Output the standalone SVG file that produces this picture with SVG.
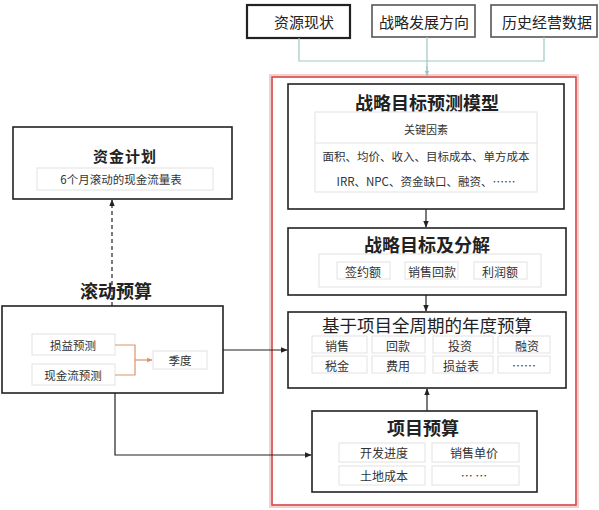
<svg xmlns="http://www.w3.org/2000/svg" width="599" height="510" viewBox="0 0 599 510">
<defs>
<style>
.box{fill:#fff;stroke:#222;stroke-width:1.6}
.ibox{fill:#fff;stroke:#e2e2e2;stroke-width:1}
.t{font-family:"Noto Sans CJK SC","Noto Sans",sans-serif;fill:#222;text-anchor:middle;dominant-baseline:central}
.h{font-size:18px;font-weight:bold}
.s{font-size:11.5px;fill:#333}
.top{font-size:15px}
.ln{fill:none;stroke:#222;stroke-width:1.2}
</style>
<marker id="ah" viewBox="0 0 10 10" refX="9" refY="5" markerWidth="7" markerHeight="7" orient="auto-start-reverse" markerUnits="userSpaceOnUse"><path d="M0,1 L10,5 L0,9 Z" fill="#222"/></marker>
<marker id="aht" viewBox="0 0 10 10" refX="9" refY="5" markerWidth="6" markerHeight="6" orient="auto" markerUnits="userSpaceOnUse"><path d="M0,1 L10,5 L0,9 Z" fill="#9cc9c3"/></marker>
<marker id="aho" viewBox="0 0 10 10" refX="9" refY="5" markerWidth="6" markerHeight="6" orient="auto" markerUnits="userSpaceOnUse"><path d="M0,1 L10,5 L0,9 Z" fill="#d9956a"/></marker>
</defs>
<rect width="599" height="510" fill="#fff"/>

<g id="frame">
<rect x="271" y="76" width="306" height="430" fill="none" stroke="#f3d0d0" stroke-width="4"/>
<rect x="272" y="77" width="304" height="428" fill="none" stroke="#d84545" stroke-width="1.5"/>
</g>

<g id="n-ziyuan">
<rect x="247" y="5" width="103" height="33" fill="#fff" stroke="#222" stroke-width="2.2"/>
<text class="t top" x="304" y="21">资源现状</text>
</g>
<g id="n-zhanlue">
<rect x="372" y="5" width="103" height="32" fill="#fff" stroke="#555" stroke-width="1.6"/>
<text class="t top" x="424" y="21">战略发展方向</text>
</g>
<g id="n-lishi">
<rect x="491" y="5" width="106" height="32" fill="#fff" stroke="#555" stroke-width="1.6"/>
<text class="t top" x="547" y="21">历史经营数据</text>
</g>

<g id="n-model">
<rect class="box" x="288" y="84" width="276" height="125"/>
<text class="t h" x="427" y="102">战略目标预测模型</text>
<rect class="ibox" x="315" y="112" width="222" height="80"/>
<line x1="315" y1="143" x2="537" y2="143" stroke="#e2e2e2"/>
<text class="t s" x="426" y="129" style="font-size:11px">关键因素</text>
<text class="t s" x="426" y="156">面积、均价、收入、目标成本、单方成本</text>
<text class="t s" x="426" y="181">IRR、NPC、资金缺口、融资、……</text>
</g>

<g id="n-goal">
<rect class="box" x="288" y="228" width="278" height="67"/>
<text class="t h" x="427" y="244">战略目标及分解</text>
<rect class="ibox" x="319" y="254" width="222" height="33"/>
<rect class="ibox" x="337" y="262" width="53" height="17"/>
<rect class="ibox" x="405" y="262" width="53" height="17"/>
<rect class="ibox" x="474" y="262" width="53" height="17"/>
<text class="t s" x="363" y="271" style="font-size:12px">签约额</text>
<text class="t s" x="432" y="271" style="font-size:12px">销售回款</text>
<text class="t s" x="500" y="271" style="font-size:12px">利润额</text>
</g>

<g id="n-annual">
<rect class="box" x="288" y="312" width="278" height="76"/>
<text class="t" x="427" y="324" style="font-size:17.5px">基于项目全周期的年度预算</text>
<rect class="ibox" x="312" y="336" width="55" height="17"/>
<rect class="ibox" x="372" y="336" width="53" height="17"/>
<rect class="ibox" x="433" y="336" width="60" height="17"/>
<rect class="ibox" x="498" y="336" width="52" height="17"/>
<rect class="ibox" x="312" y="356" width="55" height="17"/>
<rect class="ibox" x="372" y="356" width="53" height="17"/>
<rect class="ibox" x="433" y="356" width="60" height="17"/>
<rect class="ibox" x="498" y="356" width="52" height="17"/>
<text class="t s" x="337" y="345" style="font-size:12px">销售</text>
<text class="t s" x="398" y="345" style="font-size:12px">回款</text>
<text class="t s" x="460" y="345" style="font-size:12px">投资</text>
<text class="t s" x="527" y="345" style="font-size:12px">融资</text>
<text class="t s" x="337" y="365" style="font-size:12px">税金</text>
<text class="t s" x="398" y="365" style="font-size:12px">费用</text>
<text class="t s" x="461" y="365" style="font-size:12px">损益表</text>
<text class="t s" x="524" y="365" style="font-size:12px">……</text>
</g>

<g id="n-project">
<rect class="box" x="312" y="411" width="225" height="81"/>
<text class="t h" x="423" y="427">项目预算</text>
<rect class="ibox" x="339" y="443" width="86" height="19"/>
<rect class="ibox" x="432" y="443" width="87" height="19"/>
<rect class="ibox" x="339" y="466" width="86" height="19"/>
<rect class="ibox" x="432" y="466" width="87" height="19"/>
<text class="t s" x="384" y="452" style="font-size:12px">开发进度</text>
<text class="t s" x="474" y="452" style="font-size:12px">销售单价</text>
<text class="t s" x="384" y="475" style="font-size:12px">土地成本</text>
<text class="t s" x="474" y="475" style="font-size:12px">… …</text>
</g>

<g id="n-fund">
<rect class="box" x="13" y="127" width="219" height="72"/>
<text class="t" x="125" y="155" style="font-size:15px;font-weight:bold;letter-spacing:1px">资金计划</text>
<rect class="ibox" x="37" y="168" width="176" height="22"/>
<text class="t s" x="121" y="179">6个月滚动的现金流量表</text>
</g>

<g id="n-rolling-label">
<text class="t h" x="116" y="290">滚动预算</text>
</g>

<g id="n-rolling">
<rect class="box" x="2" y="306" width="221" height="87"/>
<rect class="ibox" x="32" y="334" width="83" height="21"/>
<rect class="ibox" x="32" y="364" width="83" height="21"/>
<rect class="ibox" x="153" y="351" width="54" height="18"/>
<text class="t s" x="73" y="345">损益预测</text>
<text class="t s" x="73" y="375">现金流预测</text>
<text class="t s" x="180" y="360">季度</text>
</g>

<g id="connectors">
<path d="M299,38 V61 H544 V37 M427,37 V61 V75" fill="none" stroke="#9cc9c3" stroke-width="1.2"/>
<path d="M427,66 V76" fill="none" stroke="#9cc9c3" stroke-width="1.2" marker-end="url(#aht)"/>
<path class="ln" d="M426,209 V227" marker-end="url(#ah)"/>
<path class="ln" d="M426,295 V311" marker-end="url(#ah)"/>
<path class="ln" d="M427,411 V389" marker-end="url(#ah)"/>
<path class="ln" d="M112,306 V200" stroke-dasharray="4,3" marker-end="url(#ah)"/>
<path class="ln" d="M223,350 H287" marker-end="url(#ah)"/>
<path class="ln" d="M115,393 V455 H311" marker-end="url(#ah)"/>
<path d="M115,345 H135 V375 H115" fill="none" stroke="#d9956a" stroke-width="1.2"/>
<path d="M135,360 H152" fill="none" stroke="#d9956a" stroke-width="1.2" marker-end="url(#aho)"/>
</g>
</svg>
